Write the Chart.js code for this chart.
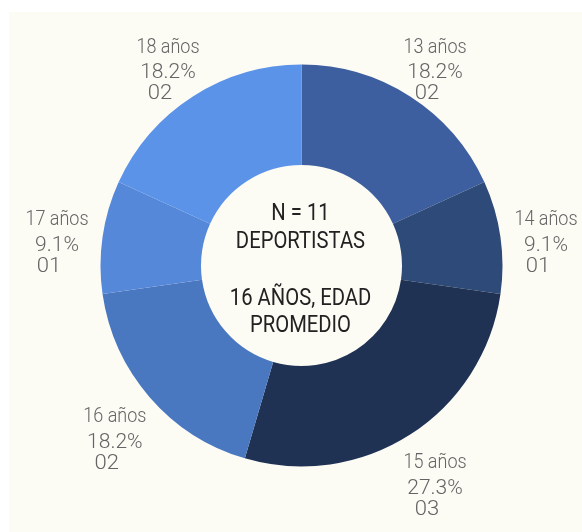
<!DOCTYPE html>
<html>
<head>
<meta charset="utf-8">
<script src="https://cdn.jsdelivr.net/npm/chart.js@4/dist/chart.umd.min.js"></script>
<style>
  html, body { margin: 0; padding: 0; background: #ffffff; }
  #wrap { position: absolute; left: 0; top: 0; width: 582px; height: 532px; }
  #panel { position: absolute; left: 9px; top: 12px; width: 573px; height: 520px; background: #fcfbf4; }
  canvas { position: absolute; left: 0; top: 0; }
</style>
</head>
<body>
<div id="wrap">
  <div id="panel"></div>
  <canvas id="c" width="582" height="532"></canvas>
</div>
<script>
const categories = ["13 años", "14 años", "15 años", "16 años", "17 años", "18 años"];
const counts = [2, 1, 3, 2, 1, 2];
const percentLabels = ["18.2%", "9.1%", "27.3%", "18.2%", "9.1%", "18.2%"];
const countLabels = ["02", "01", "03", "02", "01", "02"];
const colors = ["#3d5f9f", "#2e4a78", "#1f3254", "#4a78c0", "#5688da", "#5b93e8"];
const centerLines = ["N = 11", "DEPORTISTAS", "", "16 AÑOS, EDAD", "PROMEDIO"];

const FONT = 'Roboto, "Liberation Sans", sans-serif';

function narrowText(ctx, t, x, y, sx) {
  ctx.save();
  ctx.translate(x, y);
  ctx.scale(sx, 1);
  ctx.fillText(t, 0, 0);
  ctx.restore();
}

const labelPlugin = {
  id: 'outerLabels',
  afterDatasetsDraw(chart) {
    const ctx = chart.ctx;
    const meta = chart.getDatasetMeta(0);
    ctx.save();
    ctx.textAlign = 'center';
    ctx.textBaseline = 'middle';
    ctx.fillStyle = '#646464';
    meta.data.forEach((arc, i) => {
      const p = arc.getProps(['x', 'y', 'startAngle', 'endAngle', 'outerRadius'], true);
      const mid = (p.startAngle + p.endAngle) / 2;
      const r = p.outerRadius + 46;
      const x = p.x + r * Math.cos(mid);
      const y = p.y + r * Math.sin(mid) + 15.5;
      ctx.font = '300 20px ' + FONT;
      narrowText(ctx, categories[i], x, y - 25.5, 0.9);
      ctx.font = '300 21px ' + FONT;
      narrowText(ctx, percentLabels[i], x, y, 1);
      narrowText(ctx, countLabels[i], x - 8, y + 21, 1.05);
    });
    // center text
    const a0 = meta.data[0].getProps(['x', 'y'], true);
    ctx.fillStyle = '#222222';
    ctx.font = '23px ' + FONT;
    const offs = [-54, -26, 0, 31, 58];
    centerLines.forEach((t, k) => {
      if (t) narrowText(ctx, t, a0.x - 1, a0.y + offs[k] + 2.5, 0.88);
    });
    ctx.restore();
  }
};

new Chart(document.getElementById('c'), {
  type: 'doughnut',
  data: {
    labels: categories,
    datasets: [{
      data: counts,
      backgroundColor: colors,
      borderWidth: 0,
      hoverOffset: 0
    }]
  },
  options: {
    responsive: false,
    animation: false,
    cutout: '50%',
    layout: { padding: { left: 100.5, right: 79.5, top: 64.5, bottom: 65.5 } },
    plugins: {
      legend: { display: false },
      tooltip: { enabled: false }
    }
  },
  plugins: [labelPlugin]
});
</script>
</body>
</html>
